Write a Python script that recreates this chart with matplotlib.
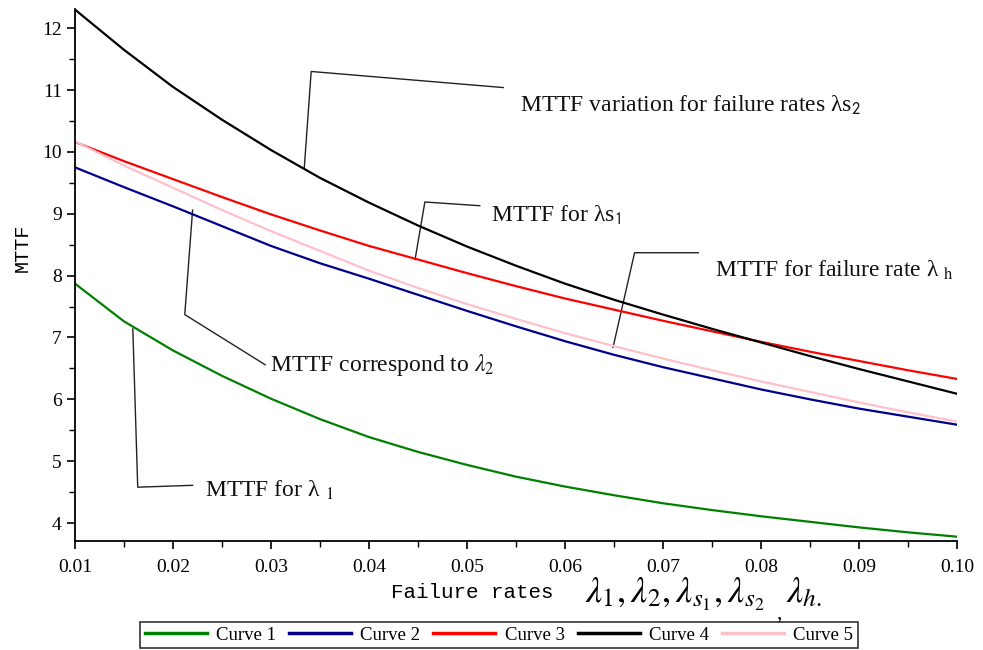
import matplotlib
matplotlib.use("Agg")
import matplotlib.pyplot as plt
from matplotlib.ticker import MultipleLocator, FormatStrFormatter

plt.rcParams['mathtext.fontset'] = 'stix'

# ---- data ----
rates = [0.010, 0.015, 0.020, 0.025, 0.030, 0.035, 0.040, 0.045, 0.050, 0.055,
         0.060, 0.065, 0.070, 0.075, 0.080, 0.085, 0.090, 0.095, 0.100]
curve1 = [7.87, 7.26, 6.79, 6.38, 6.01, 5.68, 5.39, 5.15, 4.94, 4.75,
          4.59, 4.45, 4.32, 4.21, 4.11, 4.02, 3.93, 3.85, 3.78]
curve2 = [9.75, 9.43, 9.12, 8.80, 8.48, 8.20, 7.95, 7.69, 7.43, 7.18,
          6.94, 6.72, 6.52, 6.34, 6.16, 6.00, 5.85, 5.72, 5.59]
curve3 = [10.16, 9.85, 9.56, 9.27, 8.99, 8.73, 8.48, 8.26, 8.04, 7.83,
          7.63, 7.45, 7.27, 7.10, 6.93, 6.77, 6.62, 6.47, 6.33]
curve4 = [12.30, 11.65, 11.05, 10.52, 10.03, 9.58, 9.18, 8.81, 8.47, 8.16,
          7.87, 7.61, 7.37, 7.14, 6.92, 6.70, 6.49, 6.29, 6.09]
curve5 = [10.17, 9.78, 9.42, 9.06, 8.72, 8.40, 8.08, 7.80, 7.54, 7.30,
          7.07, 6.86, 6.66, 6.47, 6.29, 6.12, 5.95, 5.79, 5.64]
series_labels = ["Curve 1", "Curve 2", "Curve 3", "Curve 4", "Curve 5"]
series_colors = ["#008000", "#00008B", "#FF0000", "#000000", "#FFC0CB"]
x_ticks = [0.01, 0.02, 0.03, 0.04, 0.05, 0.06, 0.07, 0.08, 0.09, 0.10]
y_ticks = [4, 5, 6, 7, 8, 9, 10, 11, 12]

W, H = 983, 650
fig = plt.figure(figsize=(W / 100, H / 100), dpi=100)
ax = fig.add_axes([75 / W, 1 - 541 / H, (957 - 75) / W, (541 - 9) / H])

lines = []
for ys, lab, col in zip([curve1, curve2, curve3, curve4, curve5], series_labels, series_colors):
    ln, = ax.plot(rates, ys, color=col, lw=1.6, label=lab)
    lines.append(ln)

ax.set_xlim(0.01, 0.10)
ax.set_ylim(3.71, 12.31)
ax.set_xticks(x_ticks)
ax.set_yticks(y_ticks)
ax.xaxis.set_minor_locator(MultipleLocator(0.005))
ax.yaxis.set_minor_locator(MultipleLocator(0.5))
ax.xaxis.set_major_formatter(FormatStrFormatter('%.2f'))
for s in ['top', 'right']:
    ax.spines[s].set_visible(False)
for s in ['left', 'bottom']:
    ax.spines[s].set_linewidth(1.3)
ax.tick_params(which='major', direction='out', length=6, width=1.2, labelsize=14)
ax.tick_params(which='minor', direction='out', length=4, width=1.0)
for lbl in ax.get_xticklabels() + ax.get_yticklabels():
    lbl.set_fontfamily('Liberation Serif')
ax.tick_params(axis='x', pad=7)

# ---- annotations with leader lines (data coords) ----
lc = '#222222'
annots = [
    ([(0.0334, 9.75), (0.0341, 11.30), (0.0537, 11.04)], (0.0554, 10.76),
     'MTTF variation for failure rates \u03bbs$_{\\mathsf{2}}$'),
    ([(0.0447, 8.26), (0.0457, 9.19), (0.0513, 9.13)], (0.0524, 8.98),
     'MTTF for \u03bbs$_{\\mathsf{1}}$'),
    ([(0.0649, 6.84), (0.0671, 8.37), (0.0736, 8.37)], (0.0753, 8.09),
     'MTTF for failure rate \u03bb $_{\\mathrm{h}}$'),
    ([(0.0220, 9.06), (0.0212, 7.37), (0.0294, 6.56)], (0.0299, 6.56),
     'MTTF correspond to $\\lambda_2$'),
    ([(0.0159, 7.14), (0.0164, 4.58), (0.0220, 4.61)], (0.0233, 4.53),
     'MTTF for \u03bb $_1$'),
]
for path, tpos, txt in annots:
    xs = [p[0] for p in path]
    ys = [p[1] for p in path]
    ax.plot(xs, ys, color=lc, lw=1.0, clip_on=False, zorder=1)
    ax.text(tpos[0], tpos[1], txt, fontsize=17, family='Liberation Serif',
            ha='left', va='center', color='#111111')

# ---- axis labels ----
fig.text(22 / W, 1 - 248 / H, 'MTTF', rotation=90, family='Liberation Mono',
         fontsize=14.5, ha='center', va='center')
fig.text(391 / W, 1 - 593 / H, 'Failure rates', family='Liberation Mono',
         fontsize=15, ha='left', va='center')
fig.text(585 / W, 1 - 594 / H,
         r'$\lambda_1,\lambda_2,\lambda_{s_1},\lambda_{s_2}$',
         fontsize=26, ha='left', va='center')
fig.text(776 / W, 1 - 614 / H, ',', family='Liberation Serif', fontsize=15,
         ha='left', va='center')
fig.text(786 / W, 1 - 592 / H, r'$\lambda_{h.}$', fontsize=26, ha='left', va='center')

# ---- legend ----
leg = fig.legend(lines, series_labels, loc='center', ncol=5,
                 bbox_to_anchor=(499 / W, 1 - 635 / H), frameon=True, fancybox=False,
                 prop={'family': 'Liberation Serif', 'size': 13.5},
                 handlelength=3.3, handletextpad=0.5, columnspacing=0.7,
                 borderpad=0.25, borderaxespad=0)
leg.get_frame().set_edgecolor('black')
leg.get_frame().set_linewidth(1.2)
for h in leg.get_lines():
    h.set_linewidth(2.5)

fig.savefig('out.png', dpi=100)
